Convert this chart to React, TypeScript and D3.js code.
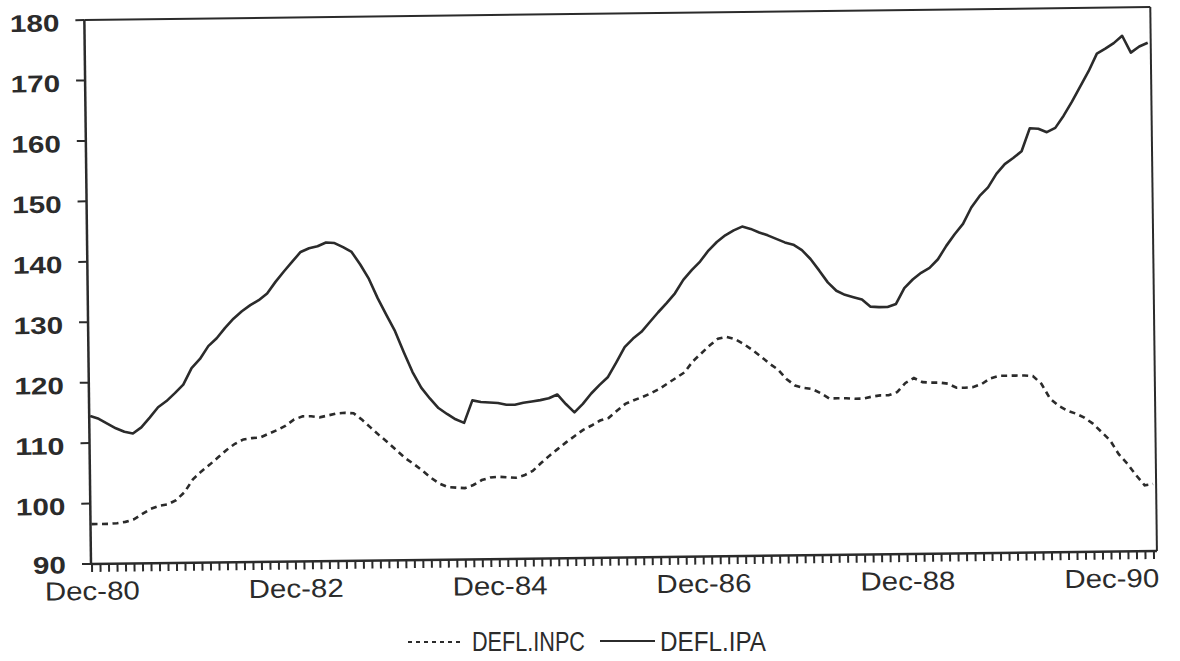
import React from "react";
import * as d3 from "d3";

const fmt = d3.timeFormat("%b-%y");
const months: string[] = d3.timeMonth.range(new Date(1980, 11, 1), new Date(1991, 5, 1)).map((d) => fmt(d));

const defl_ipa: number[] = [
  114.5, 114.0, 113.2, 112.4, 111.8, 111.5, 112.5, 114.1, 115.8, 116.8,
  118.1, 119.5, 122.2, 123.7, 125.8, 127.1, 128.8, 130.3, 131.5, 132.5,
  133.3, 134.4, 136.3, 138.0, 139.6, 141.2, 141.8, 142.1, 142.7, 142.6,
  141.9, 141.1, 139.0, 136.6, 133.4, 130.6, 127.9, 124.4, 121.1, 118.5,
  116.7, 115.1, 114.1, 113.2, 112.6, 116.3, 116.0, 115.9, 115.8, 115.5,
  115.5, 115.8, 116.0, 116.2, 116.5, 117.1, 115.5, 114.1, 115.5, 117.2,
  118.6, 119.9, 122.3, 124.8, 126.2, 127.3, 128.9, 130.5, 132.0, 133.6,
  135.8, 137.4, 138.8, 140.6, 142.0, 143.1, 143.9, 144.5, 144.1, 143.5,
  143.0, 142.4, 141.8, 141.4, 140.5, 139.0, 137.1, 135.1, 133.7, 133.0,
  132.6, 132.2, 131.0, 130.9, 130.9, 131.4, 134.0, 135.4, 136.5, 137.3,
  138.7, 140.9, 142.8, 144.5, 147.2, 149.1, 150.5, 152.7, 154.3, 155.3,
  156.4, 160.2, 160.1, 159.5, 160.2, 162.2, 164.5, 167.0, 169.5, 172.4,
  173.2, 174.1, 175.3, 172.5, 173.5, 174.1,
];

const defl_inpc: number[] = [
  96.6, 96.6, 96.6, 96.7, 96.9, 97.3, 98.2, 99.0, 99.5, 99.7,
  100.4, 101.7, 103.8, 105.1, 106.2, 107.4, 108.6, 109.6, 110.3, 110.5,
  110.6, 111.2, 111.8, 112.5, 113.5, 114.0, 114.0, 113.8, 114.1, 114.4,
  114.5, 114.4, 113.3, 112.0, 110.7, 109.5, 108.2, 106.9, 105.9, 104.8,
  103.6, 102.6, 102.0, 101.9, 101.8, 102.3, 103.1, 103.5, 103.6, 103.5,
  103.4, 103.8, 104.5, 105.8, 107.0, 108.1, 109.2, 110.2, 111.2, 111.9,
  112.7, 113.1, 114.3, 115.4, 116.0, 116.5, 117.1, 117.8, 118.7, 119.6,
  120.5, 122.3, 123.6, 124.9, 126.0, 126.3, 125.9, 125.1, 124.1, 123.0,
  121.8, 120.8, 119.2, 118.1, 117.7, 117.5, 116.8, 115.9, 115.9, 115.9,
  115.8, 115.8, 116.1, 116.3, 116.3, 116.8, 118.3, 119.1, 118.4, 118.3,
  118.3, 118.1, 117.4, 117.4, 117.5, 118.0, 118.9, 119.3, 119.3, 119.3,
  119.3, 119.2, 117.9, 115.4, 114.2, 113.4, 112.9, 112.2, 111.2, 109.8,
  108.4, 106.1, 104.5, 102.6, 100.9, 101.1,
];

const xTickLabels: string[] = ["Dec-80", "Dec-82", "Dec-84", "Dec-86", "Dec-88", "Dec-90"];
const yTicks: number[] = [90, 100, 110, 120, 130, 140, 150, 160, 170, 180];
const seriesNames: string[] = ["DEFL.INPC", "DEFL.IPA"];

export default function App() {
  const W = 1066;
  const H = 544;
  const ink = "#2b2b2b";
  const x = d3.scalePoint<string>().domain(months).range([1, 1063]);
  const y = d3.scaleLinear().domain([90, 180]).range([0, -H]);
  const lineGen = d3
    .line<number>()
    .x((_, i) => x(months[i]) as number)
    .y((d) => y(d));

  return (
    <svg
      width={1180}
      height={661}
      style={{ position: "absolute", left: 0, top: 0, background: "#fff" }}
    >
      <rect x={0} y={0} width={1180} height={661} fill="#fff" />
      <g transform="translate(91,564) rotate(-0.7)">
        {/* frame */}
        <line x1={0} y1={-H} x2={W} y2={-H} stroke={ink} strokeWidth={2} />
        <line x1={W} y1={-H} x2={W} y2={0} stroke={ink} strokeWidth={2} />
        <line x1={0} y1={0} x2={0} y2={-H} stroke={ink} strokeWidth={2.5} />
        <line x1={0} y1={0} x2={W} y2={0} stroke={ink} strokeWidth={2.5} />
        {/* y ticks */}
        {yTicks.map((v) => (
          <g key={v}>
            <line x1={-9} x2={0} y1={y(v)} y2={y(v)} stroke={ink} strokeWidth={2} />
            <text
              x={-25}
              y={y(v) + (v === 90 ? 9 : 11)}
              textAnchor="end"
              fontFamily="Liberation Sans, Arial, sans-serif"
              fontWeight="bold"
              fontSize={24}
              fill={ink}
              textLength={String(v).length * 16.5}
              lengthAdjust="spacingAndGlyphs"
            >
              {v}
            </text>
          </g>
        ))}
        {/* x monthly ticks */}
        {months.map((m) => (
          <line
            key={m}
            x1={x(m) as number}
            x2={x(m) as number}
            y1={0}
            y2={8}
            stroke={ink}
            strokeWidth={2}
          />
        ))}
        {xTickLabels.map((lab) => (
          <text
            key={lab}
            x={x(lab) as number}
            y={36}
            textAnchor="middle"
            fontFamily="Liberation Sans, Arial, sans-serif"
            fontSize={26}
            fill={ink}
            textLength={95}
            lengthAdjust="spacingAndGlyphs"
          >
            {lab}
          </text>
        ))}
        {/* series */}
        <path
          d={lineGen(defl_inpc) || ""}
          fill="none"
          stroke={ink}
          strokeWidth={2.6}
          strokeDasharray="6,4.5"
        />
        <path d={lineGen(defl_ipa) || ""} fill="none" stroke={ink} strokeWidth={2.6} strokeLinejoin="round" />
      </g>
      {/* legend */}
      <g>
        <line x1={408} x2={462} y1={642} y2={642} stroke={ink} strokeWidth={2} strokeDasharray="4,4" />
        <text
          x={472}
          y={651}
          fontFamily="Liberation Sans, Arial, sans-serif"
          fontSize={27}
          fill={ink}
          textLength={113}
          lengthAdjust="spacingAndGlyphs"
        >
          {seriesNames[0]}
        </text>
        <line x1={600} x2={655} y1={641} y2={641} stroke={ink} strokeWidth={2.2} />
        <text
          x={660}
          y={651}
          fontFamily="Liberation Sans, Arial, sans-serif"
          fontSize={27}
          fill={ink}
          textLength={106}
          lengthAdjust="spacingAndGlyphs"
        >
          {seriesNames[1]}
        </text>
      </g>
    </svg>
  );
}
